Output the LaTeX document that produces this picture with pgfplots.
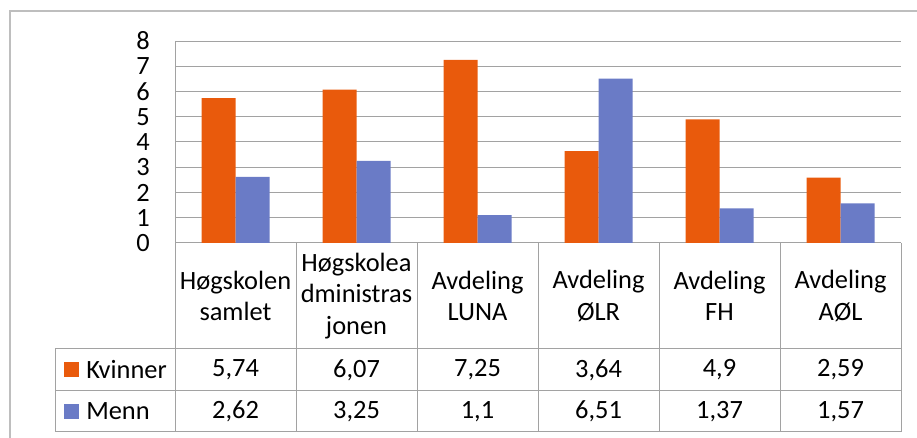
\documentclass[border=0pt]{standalone}
\usepackage{pgfplots}
\pgfplotsset{compat=1.18}
\usepackage{pgfplotstable}
\usepackage{fontspec}
\setmainfont{Carlito}
\definecolor{kv}{HTML}{E95A0C}
\definecolor{me}{HTML}{6A7BC6}
\definecolor{gridc}{HTML}{A2A2A2}
\definecolor{framec}{HTML}{BEBEBE}
\pgfkeys{/pgf/number format/.cd,use comma,fixed,precision=2,assume math mode=true}

\pgfplotstableread{
x   k    m
0.5 5.74 2.62
1.5 6.07 3.25
2.5 7.25 1.10
3.5 3.64 6.51
4.5 4.90 1.37
5.5 2.59 1.57
}\data

\begin{document}
\begin{tikzpicture}[x=0.75pt,y=0.75pt,font=\fontsize{19.8}{23.6}\selectfont]
\path[use as bounding box] (0,0) rectangle (917,438);
\draw[framec,line width=1.1pt] (10,-5) -- (10,427) -- (925,427);
\begin{axis}[at={(131.25pt,146.25pt)},anchor=south west,scale only axis,
  width=544.5pt,height=151.5pt,
  xmin=0,xmax=6,ymin=0,ymax=8,ytick={0,...,8},xtick=\empty,
  ymajorgrids,grid style={gridc,line width=0.75pt},
  axis line style={draw=none},major tick length=0pt,
  ybar=0pt,bar width=25.5pt,
  yticklabel style={anchor=east,inner sep=0pt,xshift=-18.75pt},
  /pgf/number format/assume math mode=true,
  tick label style={font=\fontsize{19.8}{23.6}\selectfont}]
\addplot[fill=kv,draw=none] table[x=x,y=k]{\data};
\addplot[fill=me,draw=none] table[x=x,y=m]{\data};
\end{axis}
% data table below the plot
\begin{scope}[gridc,line width=0.75pt]
\draw (175,397) -- (175,6);
\foreach \xx in {296,417,538,659,780,901} \draw (\xx,195) -- (\xx,6);
\draw (55,89) -- (901,89);
\draw (55,47) -- (901,47);
\draw (55,6) -- (901,6);
\draw (55,89) -- (55,6);
\end{scope}
\foreach \i/\t in {0/{Høgskolen\\samlet},1/{Høgskolea\\dministras\\jonen},2/{Avdeling\\LUNA},3/{Avdeling\\ØLR},4/{Avdeling\\FH},5/{Avdeling\\AØL}}
  \node[align=center,inner sep=0pt] at ({235.5+121*\i},142) {\t};
\foreach \i in {0,...,5} {
  \pgfplotstablegetelem{\i}{k}\of\data
  \node[inner sep=0pt] at ({235.5+121*\i},68) {\pgfmathprintnumber{\pgfplotsretval}};
  \pgfplotstablegetelem{\i}{m}\of\data
  \node[inner sep=0pt] at ({235.5+121*\i},26.5) {\pgfmathprintnumber{\pgfplotsretval}};
}
\fill[kv] (64,61) rectangle (79,76);
\fill[me] (64,19) rectangle (79,34);
\node[anchor=west,inner sep=0pt] at (86,68) {Kvinner};
\node[anchor=west,inner sep=0pt] at (86,26.5) {Menn};
\end{tikzpicture}
\end{document}
